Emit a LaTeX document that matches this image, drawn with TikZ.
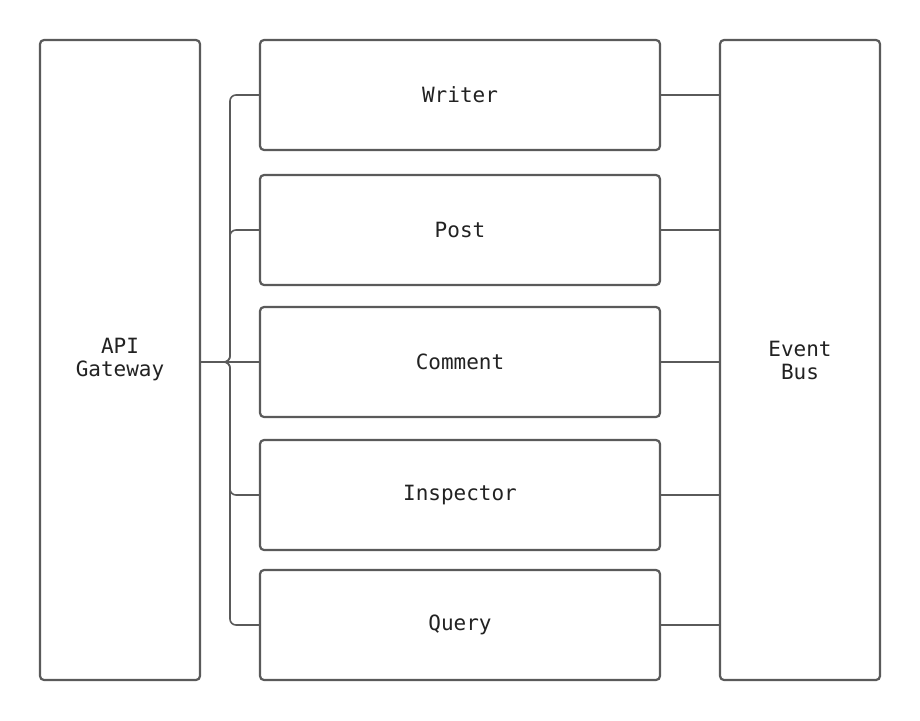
\documentclass[tikz,border=0pt]{standalone}
\usepackage{fontspec}
\setmonofont{DejaVu Sans Mono}
\definecolor{linegray}{HTML}{5A5A5A}
\definecolor{textgray}{HTML}{222222}
\begin{document}
\begin{tikzpicture}[x=1pt,y=-1pt,
  box/.style={draw=linegray,line width=2.2pt,rounded corners=4pt,fill=white,
    font=\ttfamily\fontsize{21}{23}\selectfont,text=textgray,align=center,inner sep=0pt},
  conn/.style={draw=linegray,line width=1.6pt,rounded corners=6pt}]
\useasboundingbox (0,0) rectangle (920,720);
\node[box,minimum width=160pt,minimum height=640pt] (api) at (120,360) {API\\Gateway};
\node[box,minimum width=160pt,minimum height=640pt] (bus) at (800,360) {Event\\Bus};
\node[box,minimum width=400pt,minimum height=110pt] (writer) at (460,95) {Writer};
\node[box,minimum width=400pt,minimum height=110pt] (post) at (460,230) {Post};
\node[box,minimum width=400pt,minimum height=110pt] (comment) at (460,362) {Comment};
\node[box,minimum width=400pt,minimum height=110pt] (inspector) at (460,495) {Inspector};
\node[box,minimum width=400pt,minimum height=110pt] (query) at (460,625) {Query};
\coordinate (gw) at ([yshift=-2pt]api.east);
\foreach \n in {writer,post,inspector,query}{
  \draw[conn] (gw) -- (230,362) |- (\n.west);
}
\draw[conn] (gw) -- (comment.west);
\foreach \n in {writer,post,comment,inspector,query}{
  \draw[conn] (\n.east) -- (\n.east -| bus.west);
}
\end{tikzpicture}
\end{document}
